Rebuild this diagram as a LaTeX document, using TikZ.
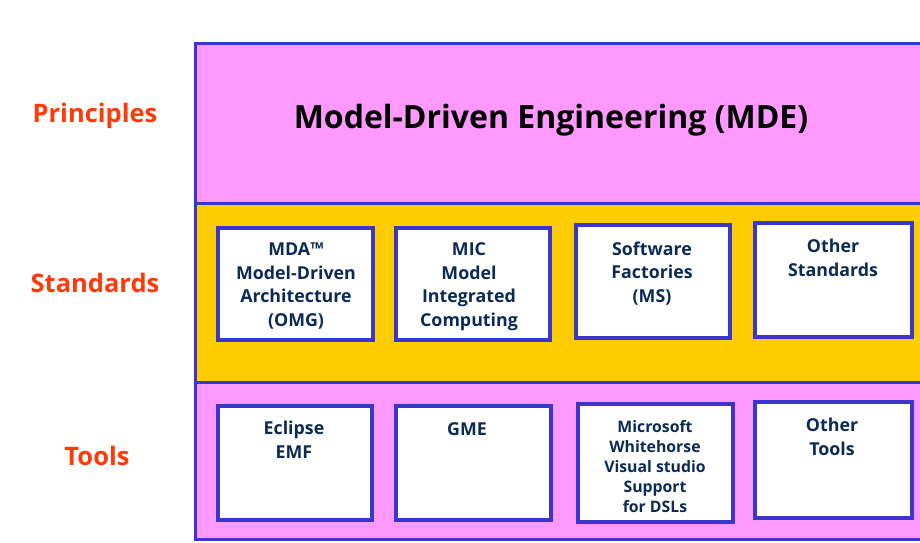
\documentclass[tikz,border=0pt]{standalone}
\usepackage{fontspec}
\setmainfont{Open Sans}
\definecolor{pinkfill}{HTML}{FF99FF}
\definecolor{goldfill}{HTML}{FFCC00}
\definecolor{bordblue}{HTML}{3A36CC}
\definecolor{labred}{HTML}{FF3A0A}
\definecolor{navy}{HTML}{0B2A55}
\tikzset{
  band/.style={draw=bordblue, line width=3pt},
  innerbox/.style={draw=bordblue, line width=3.5pt, fill=white},
  sidelab/.style={font=\fontsize{25.5}{28}\selectfont\bfseries, text=labred, inner sep=0pt},
  boxtxt/.style={font=\fontsize{17.8}{23.5}\selectfont\bfseries, text=navy, align=center, anchor=base, inner sep=0pt},
  smalltxt/.style={font=\fontsize{15.8}{19.8}\selectfont\bfseries, text=navy, align=center, anchor=base, inner sep=0pt}
}
\begin{document}
\begin{tikzpicture}[x=1pt,y=-1pt]
\useasboundingbox (0,0) rectangle (920,542);
\fill[white] (0,0) rectangle (920,542);
% bands
\draw[band, fill=pinkfill] (195,43) rectangle (930,203);
\draw[band, fill=goldfill] (195,203) rectangle (930,382);
\draw[band, fill=pinkfill] (195,382) rectangle (930,539);
\node[font=\fontsize{32}{36}\selectfont\bfseries, inner sep=0pt] (mde) at (551,120) {Model-Driven Engineering (MDE)};
% side labels
\node[sidelab] (pri) at (95,116) {Principles};
\node[sidelab] (std) at (95,283) {Standards};
\node[sidelab] (tls) at (97,456) {Tools};
% standards boxes
\draw[innerbox] (218,228) rectangle (373,340) coordinate (s1);
\draw[innerbox] (396,228) rectangle (550,340) coordinate (s2);
\draw[innerbox] (576,225) rectangle (730,338) coordinate (s3);
\draw[innerbox] (755,223) rectangle (912,337) coordinate (s4);
\node[boxtxt] (t1) at (296,326) {MDA™\\Model-Driven\\Architecture\\(OMG)};
\node[boxtxt] (t2) at (469,326) {MIC\\Model\\Integrated\\Computing};
\node[boxtxt] (t3) at (652,302) {Software\\Factories\\(MS)};
\node[boxtxt] (t4) at (833,276) {Other\\Standards};
% tools boxes
\draw[innerbox] (218,406) rectangle (372,520) coordinate (u1);
\draw[innerbox] (396,406) rectangle (551,520) coordinate (u2);
\draw[innerbox] (578,404) rectangle (733,522) coordinate (u3);
\draw[innerbox] (755,402) rectangle (912,518) coordinate (u4);
\node[boxtxt] (v1) at (294,458) {Eclipse\\EMF};
\node[boxtxt] (v2) at (467,435) {GME};
\node[smalltxt] (v3) at (655,512) {Microsoft\\Whitehorse\\Visual studio\\Support\\for DSLs};
\node[boxtxt] (v4) at (832,455) {Other\\Tools};
\end{tikzpicture}
\end{document}
